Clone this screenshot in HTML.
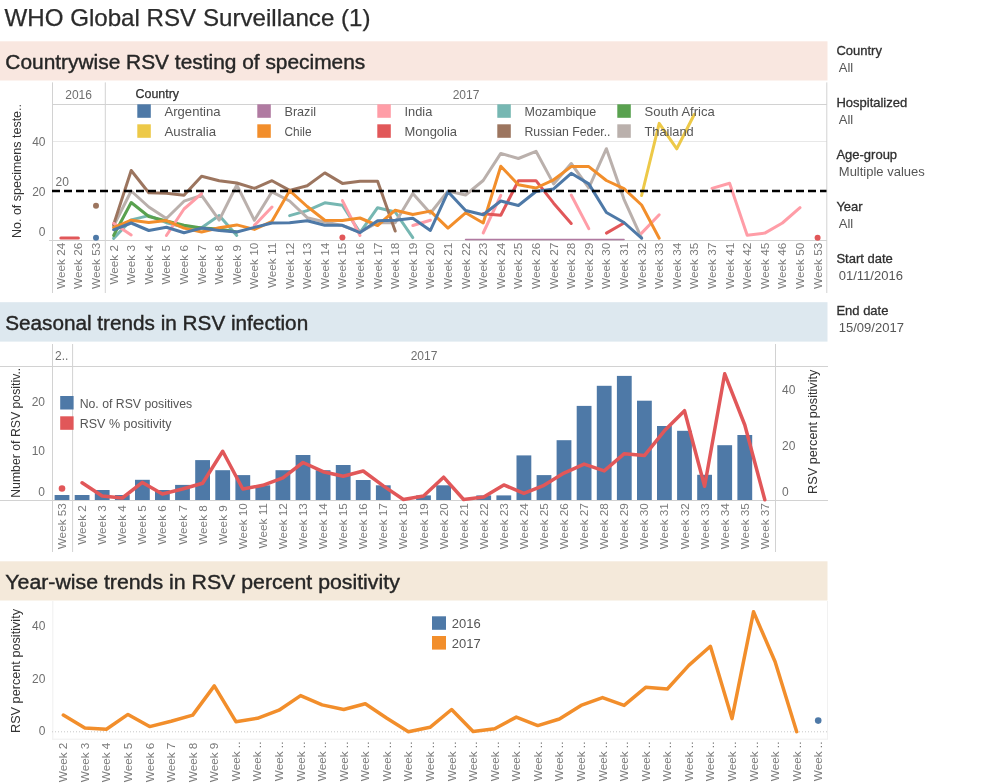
<!DOCTYPE html>
<html><head><meta charset="utf-8"><title>WHO Global RSV Surveillance (1)</title>
<style>
html,body{margin:0;padding:0;background:#fff;}
body{width:984px;height:784px;overflow:hidden;}
svg{display:block;font-family:'Liberation Sans', Arial, sans-serif;will-change:transform;}
</style></head><body>
<svg width="984" height="784" viewBox="0 0 984 784">
<text x="4.5" y="26.0" font-size="24" fill="#2b2b2b" textLength="366" lengthAdjust="spacingAndGlyphs" stroke="#2b2b2b" stroke-width="0.25">WHO Global RSV Surveillance (1)</text>
<rect x="0.0" y="41.3" width="827.5" height="39.2" fill="#f9e7e0"/>
<text x="5.3" y="68.9" font-size="20" fill="#262626" textLength="360" lengthAdjust="spacingAndGlyphs" stroke="#262626" stroke-width="0.4">Countrywise RSV testing of specimens</text>
<rect x="0.0" y="302.2" width="827.5" height="39.4" fill="#dde8ef"/>
<text x="5.2" y="330.2" font-size="20" fill="#262626" textLength="303" lengthAdjust="spacingAndGlyphs" stroke="#262626" stroke-width="0.4">Seasonal trends in RSV infection</text>
<rect x="0.0" y="561.3" width="827.5" height="39.2" fill="#f4e9da"/>
<text x="5.3" y="588.8" font-size="20" fill="#262626" textLength="394.5" lengthAdjust="spacingAndGlyphs" stroke="#262626" stroke-width="0.4">Year-wise trends in RSV percent positivity</text>
<line x1="52" y1="141.5" x2="827" y2="141.5" stroke="#e8e8e8" stroke-width="1"/>
<line x1="52" y1="104.5" x2="827" y2="104.5" stroke="#d2d2d2" stroke-width="1"/>
<line x1="49" y1="240.5" x2="827" y2="240.5" stroke="#d2d2d2" stroke-width="1"/>
<line x1="52.5" y1="82.4" x2="52.5" y2="293" stroke="#d2d2d2" stroke-width="1"/>
<line x1="105.3" y1="82.4" x2="105.3" y2="293" stroke="#d2d2d2" stroke-width="1"/>
<line x1="826.8" y1="82.4" x2="826.8" y2="293" stroke="#d2d2d2" stroke-width="1"/>
<text x="78.6" y="98.7" font-size="12" fill="#6f6f6f" text-anchor="middle">2016</text>
<text x="466.0" y="98.7" font-size="12" fill="#6f6f6f" text-anchor="middle">2017</text>
<text x="45.5" y="145.8" font-size="12" fill="#6f6f6f" text-anchor="end">40</text>
<text x="45.5" y="196.3" font-size="12" fill="#6f6f6f" text-anchor="end">20</text>
<text x="45.5" y="236.0" font-size="12" fill="#6f6f6f" text-anchor="end">0</text>
<text transform="translate(21.2,171.0) rotate(-90)" font-size="12.5" fill="#333333" text-anchor="middle" textLength="134" lengthAdjust="spacingAndGlyphs">No. of specimens teste..</text>
<text transform="translate(64.8,242.8) rotate(-90)" font-size="11" fill="#7a7a7a" text-anchor="end" textLength="46.2" lengthAdjust="spacingAndGlyphs">Week 24</text>
<text transform="translate(82.4,242.8) rotate(-90)" font-size="11" fill="#7a7a7a" text-anchor="end" textLength="46.2" lengthAdjust="spacingAndGlyphs">Week 26</text>
<text transform="translate(100.0,242.8) rotate(-90)" font-size="11" fill="#7a7a7a" text-anchor="end" textLength="46.2" lengthAdjust="spacingAndGlyphs">Week 53</text>
<text transform="translate(117.6,245.0) rotate(-90)" font-size="11" fill="#7a7a7a" text-anchor="end" textLength="39.6" lengthAdjust="spacingAndGlyphs">Week 2</text>
<text transform="translate(135.2,245.0) rotate(-90)" font-size="11" fill="#7a7a7a" text-anchor="end" textLength="39.6" lengthAdjust="spacingAndGlyphs">Week 3</text>
<text transform="translate(152.8,245.0) rotate(-90)" font-size="11" fill="#7a7a7a" text-anchor="end" textLength="39.6" lengthAdjust="spacingAndGlyphs">Week 4</text>
<text transform="translate(170.4,245.0) rotate(-90)" font-size="11" fill="#7a7a7a" text-anchor="end" textLength="39.6" lengthAdjust="spacingAndGlyphs">Week 5</text>
<text transform="translate(188.0,245.0) rotate(-90)" font-size="11" fill="#7a7a7a" text-anchor="end" textLength="39.6" lengthAdjust="spacingAndGlyphs">Week 6</text>
<text transform="translate(205.6,245.0) rotate(-90)" font-size="11" fill="#7a7a7a" text-anchor="end" textLength="39.6" lengthAdjust="spacingAndGlyphs">Week 7</text>
<text transform="translate(223.2,245.0) rotate(-90)" font-size="11" fill="#7a7a7a" text-anchor="end" textLength="39.6" lengthAdjust="spacingAndGlyphs">Week 8</text>
<text transform="translate(240.8,245.0) rotate(-90)" font-size="11" fill="#7a7a7a" text-anchor="end" textLength="39.6" lengthAdjust="spacingAndGlyphs">Week 9</text>
<text transform="translate(258.4,242.8) rotate(-90)" font-size="11" fill="#7a7a7a" text-anchor="end" textLength="46.2" lengthAdjust="spacingAndGlyphs">Week 10</text>
<text transform="translate(276.0,242.8) rotate(-90)" font-size="11" fill="#7a7a7a" text-anchor="end" textLength="45.3" lengthAdjust="spacingAndGlyphs">Week 11</text>
<text transform="translate(293.6,242.8) rotate(-90)" font-size="11" fill="#7a7a7a" text-anchor="end" textLength="46.2" lengthAdjust="spacingAndGlyphs">Week 12</text>
<text transform="translate(311.2,242.8) rotate(-90)" font-size="11" fill="#7a7a7a" text-anchor="end" textLength="46.2" lengthAdjust="spacingAndGlyphs">Week 13</text>
<text transform="translate(328.8,242.8) rotate(-90)" font-size="11" fill="#7a7a7a" text-anchor="end" textLength="46.2" lengthAdjust="spacingAndGlyphs">Week 14</text>
<text transform="translate(346.4,242.8) rotate(-90)" font-size="11" fill="#7a7a7a" text-anchor="end" textLength="46.2" lengthAdjust="spacingAndGlyphs">Week 15</text>
<text transform="translate(364.0,242.8) rotate(-90)" font-size="11" fill="#7a7a7a" text-anchor="end" textLength="46.2" lengthAdjust="spacingAndGlyphs">Week 16</text>
<text transform="translate(381.6,242.8) rotate(-90)" font-size="11" fill="#7a7a7a" text-anchor="end" textLength="46.2" lengthAdjust="spacingAndGlyphs">Week 17</text>
<text transform="translate(399.2,242.8) rotate(-90)" font-size="11" fill="#7a7a7a" text-anchor="end" textLength="46.2" lengthAdjust="spacingAndGlyphs">Week 18</text>
<text transform="translate(416.8,242.8) rotate(-90)" font-size="11" fill="#7a7a7a" text-anchor="end" textLength="46.2" lengthAdjust="spacingAndGlyphs">Week 19</text>
<text transform="translate(434.4,242.8) rotate(-90)" font-size="11" fill="#7a7a7a" text-anchor="end" textLength="46.2" lengthAdjust="spacingAndGlyphs">Week 20</text>
<text transform="translate(452.0,242.8) rotate(-90)" font-size="11" fill="#7a7a7a" text-anchor="end" textLength="46.2" lengthAdjust="spacingAndGlyphs">Week 21</text>
<text transform="translate(469.6,242.8) rotate(-90)" font-size="11" fill="#7a7a7a" text-anchor="end" textLength="46.2" lengthAdjust="spacingAndGlyphs">Week 22</text>
<text transform="translate(487.2,242.8) rotate(-90)" font-size="11" fill="#7a7a7a" text-anchor="end" textLength="46.2" lengthAdjust="spacingAndGlyphs">Week 23</text>
<text transform="translate(504.8,242.8) rotate(-90)" font-size="11" fill="#7a7a7a" text-anchor="end" textLength="46.2" lengthAdjust="spacingAndGlyphs">Week 24</text>
<text transform="translate(522.4,242.8) rotate(-90)" font-size="11" fill="#7a7a7a" text-anchor="end" textLength="46.2" lengthAdjust="spacingAndGlyphs">Week 25</text>
<text transform="translate(540.0,242.8) rotate(-90)" font-size="11" fill="#7a7a7a" text-anchor="end" textLength="46.2" lengthAdjust="spacingAndGlyphs">Week 26</text>
<text transform="translate(557.6,242.8) rotate(-90)" font-size="11" fill="#7a7a7a" text-anchor="end" textLength="46.2" lengthAdjust="spacingAndGlyphs">Week 27</text>
<text transform="translate(575.2,242.8) rotate(-90)" font-size="11" fill="#7a7a7a" text-anchor="end" textLength="46.2" lengthAdjust="spacingAndGlyphs">Week 28</text>
<text transform="translate(592.8,242.8) rotate(-90)" font-size="11" fill="#7a7a7a" text-anchor="end" textLength="46.2" lengthAdjust="spacingAndGlyphs">Week 29</text>
<text transform="translate(610.4,242.8) rotate(-90)" font-size="11" fill="#7a7a7a" text-anchor="end" textLength="46.2" lengthAdjust="spacingAndGlyphs">Week 30</text>
<text transform="translate(628.0,242.8) rotate(-90)" font-size="11" fill="#7a7a7a" text-anchor="end" textLength="46.2" lengthAdjust="spacingAndGlyphs">Week 31</text>
<text transform="translate(645.6,242.8) rotate(-90)" font-size="11" fill="#7a7a7a" text-anchor="end" textLength="46.2" lengthAdjust="spacingAndGlyphs">Week 32</text>
<text transform="translate(663.2,242.8) rotate(-90)" font-size="11" fill="#7a7a7a" text-anchor="end" textLength="46.2" lengthAdjust="spacingAndGlyphs">Week 33</text>
<text transform="translate(680.8,242.8) rotate(-90)" font-size="11" fill="#7a7a7a" text-anchor="end" textLength="46.2" lengthAdjust="spacingAndGlyphs">Week 34</text>
<text transform="translate(698.4,242.8) rotate(-90)" font-size="11" fill="#7a7a7a" text-anchor="end" textLength="46.2" lengthAdjust="spacingAndGlyphs">Week 35</text>
<text transform="translate(716.0,242.8) rotate(-90)" font-size="11" fill="#7a7a7a" text-anchor="end" textLength="46.2" lengthAdjust="spacingAndGlyphs">Week 37</text>
<text transform="translate(733.6,242.8) rotate(-90)" font-size="11" fill="#7a7a7a" text-anchor="end" textLength="46.2" lengthAdjust="spacingAndGlyphs">Week 41</text>
<text transform="translate(751.2,242.8) rotate(-90)" font-size="11" fill="#7a7a7a" text-anchor="end" textLength="46.2" lengthAdjust="spacingAndGlyphs">Week 42</text>
<text transform="translate(768.8,242.8) rotate(-90)" font-size="11" fill="#7a7a7a" text-anchor="end" textLength="46.2" lengthAdjust="spacingAndGlyphs">Week 45</text>
<text transform="translate(786.4,242.8) rotate(-90)" font-size="11" fill="#7a7a7a" text-anchor="end" textLength="46.2" lengthAdjust="spacingAndGlyphs">Week 46</text>
<text transform="translate(804.0,242.8) rotate(-90)" font-size="11" fill="#7a7a7a" text-anchor="end" textLength="46.2" lengthAdjust="spacingAndGlyphs">Week 50</text>
<text transform="translate(821.6,242.8) rotate(-90)" font-size="11" fill="#7a7a7a" text-anchor="end" textLength="46.2" lengthAdjust="spacingAndGlyphs">Week 53</text>
<polyline points="465.6,239.5 624.0,239.5" fill="none" stroke="#b07aa1" stroke-width="1.6" stroke-linejoin="round" stroke-linecap="round"/>
<polyline points="113.6,238.4 131.2,219.9 148.8,215.6 166.4,222.7 184.0,227.0 201.6,227.7 219.2,215.6 236.8,235.5" fill="none" stroke="#76b7b2" stroke-width="3" stroke-linejoin="round" stroke-linecap="round"/>
<polyline points="289.6,215.6 307.2,210.6 324.8,202.8 342.4,205.3 360.0,232.6 377.6,207.7 395.2,212.0 412.8,237.6" fill="none" stroke="#76b7b2" stroke-width="3" stroke-linejoin="round" stroke-linecap="round"/>
<polyline points="113.6,235.5 131.2,202.5 148.8,216.5 166.4,221.0 184.0,225.3 201.6,228.0 219.2,229.0 236.8,232.0" fill="none" stroke="#59a14f" stroke-width="3" stroke-linejoin="round" stroke-linecap="round"/>
<polyline points="113.6,226.0 131.2,191.0 148.8,207.0 166.4,218.5 184.0,201.2 201.6,195.3 219.2,220.1 236.8,185.0 254.4,220.3 272.0,191.8 289.6,201.0 307.2,217.7 324.8,222.0 342.4,225.5 360.0,232.0 377.6,222.7 395.2,222.7 412.8,193.4 430.4,213.2 448.0,191.0 465.6,195.0 483.2,180.5 500.8,153.4 518.4,158.5 536.0,151.3 553.6,183.9 571.2,163.5 588.8,187.9 606.4,148.7 624.0,199.3 641.6,238.2" fill="none" stroke="#bab0ac" stroke-width="3" stroke-linejoin="round" stroke-linecap="round"/>
<polyline points="113.6,224.6 131.2,170.5 148.8,192.8 166.4,193.3 184.0,195.3 201.6,176.2 219.2,180.7 236.8,183.0 254.4,188.4 272.0,180.7 289.6,190.4 307.2,185.7 324.8,172.9 342.4,183.4 360.0,181.2 377.6,181.2 395.2,231.0" fill="none" stroke="#9c755f" stroke-width="3" stroke-linejoin="round" stroke-linecap="round"/>
<polyline points="113.6,223.3 131.2,235.0" fill="none" stroke="#ff9da7" stroke-width="3" stroke-linejoin="round" stroke-linecap="round"/>
<polyline points="166.4,235.5 184.0,209.0 201.6,193.6" fill="none" stroke="#ff9da7" stroke-width="3" stroke-linejoin="round" stroke-linecap="round"/>
<polyline points="254.4,225.4 272.0,207.0" fill="none" stroke="#ff9da7" stroke-width="3" stroke-linejoin="round" stroke-linecap="round"/>
<polyline points="342.4,200.6 360.0,235.5" fill="none" stroke="#ff9da7" stroke-width="3" stroke-linejoin="round" stroke-linecap="round"/>
<polyline points="412.8,225.5 430.4,220.3" fill="none" stroke="#ff9da7" stroke-width="3" stroke-linejoin="round" stroke-linecap="round"/>
<polyline points="483.2,233.0 500.8,195.4" fill="none" stroke="#ff9da7" stroke-width="3" stroke-linejoin="round" stroke-linecap="round"/>
<polyline points="571.2,195.0 588.8,228.6" fill="none" stroke="#ff9da7" stroke-width="3" stroke-linejoin="round" stroke-linecap="round"/>
<polyline points="641.6,233.1 659.2,214.8" fill="none" stroke="#ff9da7" stroke-width="3" stroke-linejoin="round" stroke-linecap="round"/>
<polyline points="712.0,188.4 729.6,183.3 747.2,235.2 764.8,233.1 782.4,223.0 800.0,207.7" fill="none" stroke="#ff9da7" stroke-width="3" stroke-linejoin="round" stroke-linecap="round"/>
<polyline points="60.8,238.0 78.4,238.0" fill="none" stroke="#e15759" stroke-width="3" stroke-linejoin="round" stroke-linecap="round"/>
<polyline points="483.2,213.7 500.8,215.2 518.4,180.7 536.0,180.7 553.6,203.2 571.2,223.5" fill="none" stroke="#e15759" stroke-width="3" stroke-linejoin="round" stroke-linecap="round"/>
<polyline points="606.4,233.1 624.0,223.0" fill="none" stroke="#e15759" stroke-width="3" stroke-linejoin="round" stroke-linecap="round"/>
<polyline points="113.6,227.7 131.2,220.2 148.8,222.4 166.4,220.6 184.0,228.1 201.6,232.0 219.2,227.7 236.8,224.9 254.4,229.4 272.0,221.3 289.6,190.7 307.2,206.5 324.8,220.3 342.4,220.4 360.0,218.0 377.6,225.5 395.2,210.2 412.8,214.5 430.4,211.1 448.0,228.2 465.6,212.8 483.2,223.0 500.8,166.2 518.4,184.8 536.0,188.0 553.6,179.8 571.2,166.6 588.8,166.6 606.4,180.5 624.0,188.6 641.6,205.0 659.2,238.2" fill="none" stroke="#f28e2b" stroke-width="3" stroke-linejoin="round" stroke-linecap="round"/>
<polyline points="113.6,229.8 131.2,223.0 148.8,230.5 166.4,227.3 184.0,232.7 201.6,228.1 219.2,230.5 236.8,232.0 254.4,227.4 272.0,223.0 289.6,222.8 307.2,220.7 324.8,225.3 342.4,225.3 360.0,232.6 377.6,220.7 395.2,220.2 412.8,218.2 430.4,230.4 448.0,191.8 465.6,210.5 483.2,214.8 500.8,201.0 518.4,205.5 536.0,191.5 553.6,188.9 571.2,173.3 588.8,183.9 606.4,212.5 624.0,222.5 641.6,238.2" fill="none" stroke="#4e79a7" stroke-width="3" stroke-linejoin="round" stroke-linecap="round"/>
<polyline points="641.6,195.5 659.2,123.4 676.8,148.8 694.4,114.2" fill="none" stroke="#edc948" stroke-width="3" stroke-linejoin="round" stroke-linecap="round"/>
<circle cx="96.0" cy="205.7" r="3" fill="#9c755f"/>
<circle cx="96.0" cy="237.7" r="3" fill="#4e79a7"/>
<circle cx="342.4" cy="237.6" r="3" fill="#e15759"/>
<circle cx="817.6" cy="237.7" r="3" fill="#e15759"/>
<text x="135.5" y="98.0" font-size="13" fill="#2f2f2f" textLength="43.6" lengthAdjust="spacingAndGlyphs" stroke="#2f2f2f" stroke-width="0.25">Country</text>
<rect x="137.3" y="104.3" width="13.5" height="13.5" fill="#4e79a7"/>
<text x="164.5" y="116.0" font-size="13" fill="#555555" textLength="56" lengthAdjust="spacingAndGlyphs">Argentina</text>
<rect x="137.3" y="124.3" width="13.5" height="13.5" fill="#edc948"/>
<text x="164.5" y="135.6" font-size="13" fill="#555555" textLength="51.5" lengthAdjust="spacingAndGlyphs">Australia</text>
<rect x="257.3" y="104.3" width="13.5" height="13.5" fill="#b07aa1"/>
<text x="284.5" y="116.0" font-size="13" fill="#555555" textLength="31.5" lengthAdjust="spacingAndGlyphs">Brazil</text>
<rect x="257.3" y="124.3" width="13.5" height="13.5" fill="#f28e2b"/>
<text x="284.5" y="135.6" font-size="13" fill="#555555" textLength="27" lengthAdjust="spacingAndGlyphs">Chile</text>
<rect x="377.3" y="104.3" width="13.5" height="13.5" fill="#ff9da7"/>
<text x="404.5" y="116.0" font-size="13" fill="#555555" textLength="27.8" lengthAdjust="spacingAndGlyphs">India</text>
<rect x="377.3" y="124.3" width="13.5" height="13.5" fill="#e15759"/>
<text x="404.5" y="135.6" font-size="13" fill="#555555" textLength="52.5" lengthAdjust="spacingAndGlyphs">Mongolia</text>
<rect x="497.3" y="104.3" width="13.5" height="13.5" fill="#76b7b2"/>
<text x="524.5" y="116.0" font-size="13" fill="#555555" textLength="71.6" lengthAdjust="spacingAndGlyphs">Mozambique</text>
<rect x="497.3" y="124.3" width="13.5" height="13.5" fill="#9c755f"/>
<text x="524.5" y="135.6" font-size="13" fill="#555555" textLength="86" lengthAdjust="spacingAndGlyphs">Russian Feder..</text>
<rect x="617.3" y="104.3" width="13.5" height="13.5" fill="#59a14f"/>
<text x="644.5" y="116.0" font-size="13" fill="#555555" textLength="70.2" lengthAdjust="spacingAndGlyphs">South Africa</text>
<rect x="617.3" y="124.3" width="13.5" height="13.5" fill="#bab0ac"/>
<text x="644.5" y="135.6" font-size="13" fill="#555555" textLength="49.2" lengthAdjust="spacingAndGlyphs">Thailand</text>
<line x1="52" y1="191" x2="826.5" y2="191" stroke="#000" stroke-width="2.3" stroke-dasharray="8 4"/>
<text x="55.5" y="185.7" font-size="12" fill="#6f6f6f">20</text>
<line x1="0" y1="366.5" x2="828" y2="366.5" stroke="#d2d2d2" stroke-width="1"/>
<line x1="0" y1="500.5" x2="828" y2="500.5" stroke="#d2d2d2" stroke-width="1"/>
<line x1="52.5" y1="344" x2="52.5" y2="552" stroke="#d2d2d2" stroke-width="1"/>
<line x1="72.6" y1="344" x2="72.6" y2="552" stroke="#d2d2d2" stroke-width="1"/>
<line x1="775.5" y1="344" x2="775.5" y2="552" stroke="#d2d2d2" stroke-width="1"/>
<text x="55.0" y="359.7" font-size="12" fill="#6f6f6f">2..</text>
<text x="424.0" y="360.0" font-size="12" fill="#6f6f6f" text-anchor="middle">2017</text>
<text x="45.0" y="406.3" font-size="12" fill="#6f6f6f" text-anchor="end">20</text>
<text x="45.0" y="454.9" font-size="12" fill="#6f6f6f" text-anchor="end">10</text>
<text x="45.0" y="496.3" font-size="12" fill="#6f6f6f" text-anchor="end">0</text>
<text transform="translate(20.2,432.8) rotate(-90)" font-size="12.5" fill="#333333" text-anchor="middle" textLength="130" lengthAdjust="spacingAndGlyphs">Number of RSV positiv..</text>
<text x="782.0" y="394.0" font-size="12" fill="#6f6f6f">40</text>
<text x="782.0" y="449.5" font-size="12" fill="#6f6f6f">20</text>
<text x="782.0" y="496.0" font-size="12" fill="#6f6f6f">0</text>
<text transform="translate(817.0,431.8) rotate(-90)" font-size="12.5" fill="#333333" text-anchor="middle" textLength="124.4" lengthAdjust="spacingAndGlyphs">RSV percent positivity</text>
<text transform="translate(66.0,503.1) rotate(-90)" font-size="11" fill="#7a7a7a" text-anchor="end" textLength="46.2" lengthAdjust="spacingAndGlyphs">Week 53</text>
<text transform="translate(86.1,505.2) rotate(-90)" font-size="11" fill="#7a7a7a" text-anchor="end" textLength="39.6" lengthAdjust="spacingAndGlyphs">Week 2</text>
<text transform="translate(106.2,505.2) rotate(-90)" font-size="11" fill="#7a7a7a" text-anchor="end" textLength="39.6" lengthAdjust="spacingAndGlyphs">Week 3</text>
<text transform="translate(126.3,505.2) rotate(-90)" font-size="11" fill="#7a7a7a" text-anchor="end" textLength="39.6" lengthAdjust="spacingAndGlyphs">Week 4</text>
<text transform="translate(146.4,505.2) rotate(-90)" font-size="11" fill="#7a7a7a" text-anchor="end" textLength="39.6" lengthAdjust="spacingAndGlyphs">Week 5</text>
<text transform="translate(166.4,505.2) rotate(-90)" font-size="11" fill="#7a7a7a" text-anchor="end" textLength="39.6" lengthAdjust="spacingAndGlyphs">Week 6</text>
<text transform="translate(186.5,505.2) rotate(-90)" font-size="11" fill="#7a7a7a" text-anchor="end" textLength="39.6" lengthAdjust="spacingAndGlyphs">Week 7</text>
<text transform="translate(206.6,505.2) rotate(-90)" font-size="11" fill="#7a7a7a" text-anchor="end" textLength="39.6" lengthAdjust="spacingAndGlyphs">Week 8</text>
<text transform="translate(226.7,505.2) rotate(-90)" font-size="11" fill="#7a7a7a" text-anchor="end" textLength="39.6" lengthAdjust="spacingAndGlyphs">Week 9</text>
<text transform="translate(246.8,503.1) rotate(-90)" font-size="11" fill="#7a7a7a" text-anchor="end" textLength="46.2" lengthAdjust="spacingAndGlyphs">Week 10</text>
<text transform="translate(266.8,503.1) rotate(-90)" font-size="11" fill="#7a7a7a" text-anchor="end" textLength="45.3" lengthAdjust="spacingAndGlyphs">Week 11</text>
<text transform="translate(286.9,503.1) rotate(-90)" font-size="11" fill="#7a7a7a" text-anchor="end" textLength="46.2" lengthAdjust="spacingAndGlyphs">Week 12</text>
<text transform="translate(307.0,503.1) rotate(-90)" font-size="11" fill="#7a7a7a" text-anchor="end" textLength="46.2" lengthAdjust="spacingAndGlyphs">Week 13</text>
<text transform="translate(327.1,503.1) rotate(-90)" font-size="11" fill="#7a7a7a" text-anchor="end" textLength="46.2" lengthAdjust="spacingAndGlyphs">Week 14</text>
<text transform="translate(347.2,503.1) rotate(-90)" font-size="11" fill="#7a7a7a" text-anchor="end" textLength="46.2" lengthAdjust="spacingAndGlyphs">Week 15</text>
<text transform="translate(367.2,503.1) rotate(-90)" font-size="11" fill="#7a7a7a" text-anchor="end" textLength="46.2" lengthAdjust="spacingAndGlyphs">Week 16</text>
<text transform="translate(387.3,503.1) rotate(-90)" font-size="11" fill="#7a7a7a" text-anchor="end" textLength="46.2" lengthAdjust="spacingAndGlyphs">Week 17</text>
<text transform="translate(407.4,503.1) rotate(-90)" font-size="11" fill="#7a7a7a" text-anchor="end" textLength="46.2" lengthAdjust="spacingAndGlyphs">Week 18</text>
<text transform="translate(427.5,503.1) rotate(-90)" font-size="11" fill="#7a7a7a" text-anchor="end" textLength="46.2" lengthAdjust="spacingAndGlyphs">Week 19</text>
<text transform="translate(447.6,503.1) rotate(-90)" font-size="11" fill="#7a7a7a" text-anchor="end" textLength="46.2" lengthAdjust="spacingAndGlyphs">Week 20</text>
<text transform="translate(467.6,503.1) rotate(-90)" font-size="11" fill="#7a7a7a" text-anchor="end" textLength="46.2" lengthAdjust="spacingAndGlyphs">Week 21</text>
<text transform="translate(487.7,503.1) rotate(-90)" font-size="11" fill="#7a7a7a" text-anchor="end" textLength="46.2" lengthAdjust="spacingAndGlyphs">Week 22</text>
<text transform="translate(507.8,503.1) rotate(-90)" font-size="11" fill="#7a7a7a" text-anchor="end" textLength="46.2" lengthAdjust="spacingAndGlyphs">Week 23</text>
<text transform="translate(527.9,503.1) rotate(-90)" font-size="11" fill="#7a7a7a" text-anchor="end" textLength="46.2" lengthAdjust="spacingAndGlyphs">Week 24</text>
<text transform="translate(548.0,503.1) rotate(-90)" font-size="11" fill="#7a7a7a" text-anchor="end" textLength="46.2" lengthAdjust="spacingAndGlyphs">Week 25</text>
<text transform="translate(568.0,503.1) rotate(-90)" font-size="11" fill="#7a7a7a" text-anchor="end" textLength="46.2" lengthAdjust="spacingAndGlyphs">Week 26</text>
<text transform="translate(588.1,503.1) rotate(-90)" font-size="11" fill="#7a7a7a" text-anchor="end" textLength="46.2" lengthAdjust="spacingAndGlyphs">Week 27</text>
<text transform="translate(608.2,503.1) rotate(-90)" font-size="11" fill="#7a7a7a" text-anchor="end" textLength="46.2" lengthAdjust="spacingAndGlyphs">Week 28</text>
<text transform="translate(628.3,503.1) rotate(-90)" font-size="11" fill="#7a7a7a" text-anchor="end" textLength="46.2" lengthAdjust="spacingAndGlyphs">Week 29</text>
<text transform="translate(648.4,503.1) rotate(-90)" font-size="11" fill="#7a7a7a" text-anchor="end" textLength="46.2" lengthAdjust="spacingAndGlyphs">Week 30</text>
<text transform="translate(668.4,503.1) rotate(-90)" font-size="11" fill="#7a7a7a" text-anchor="end" textLength="46.2" lengthAdjust="spacingAndGlyphs">Week 31</text>
<text transform="translate(688.5,503.1) rotate(-90)" font-size="11" fill="#7a7a7a" text-anchor="end" textLength="46.2" lengthAdjust="spacingAndGlyphs">Week 32</text>
<text transform="translate(708.6,503.1) rotate(-90)" font-size="11" fill="#7a7a7a" text-anchor="end" textLength="46.2" lengthAdjust="spacingAndGlyphs">Week 33</text>
<text transform="translate(728.7,503.1) rotate(-90)" font-size="11" fill="#7a7a7a" text-anchor="end" textLength="46.2" lengthAdjust="spacingAndGlyphs">Week 34</text>
<text transform="translate(748.8,503.1) rotate(-90)" font-size="11" fill="#7a7a7a" text-anchor="end" textLength="46.2" lengthAdjust="spacingAndGlyphs">Week 35</text>
<text transform="translate(768.8,503.1) rotate(-90)" font-size="11" fill="#7a7a7a" text-anchor="end" textLength="46.2" lengthAdjust="spacingAndGlyphs">Week 37</text>
<rect x="54.6" y="495.0" width="14.8" height="5.0" fill="#4e79a7"/>
<rect x="74.7" y="495.0" width="14.8" height="5.0" fill="#4e79a7"/>
<rect x="94.8" y="490.0" width="14.8" height="10.0" fill="#4e79a7"/>
<rect x="114.9" y="495.0" width="14.8" height="5.0" fill="#4e79a7"/>
<rect x="135.0" y="479.8" width="14.8" height="20.2" fill="#4e79a7"/>
<rect x="155.0" y="490.0" width="14.8" height="10.0" fill="#4e79a7"/>
<rect x="175.1" y="484.9" width="14.8" height="15.1" fill="#4e79a7"/>
<rect x="195.2" y="460.1" width="14.8" height="39.9" fill="#4e79a7"/>
<rect x="215.3" y="470.2" width="14.8" height="29.8" fill="#4e79a7"/>
<rect x="235.4" y="475.1" width="14.8" height="24.9" fill="#4e79a7"/>
<rect x="255.4" y="485.3" width="14.8" height="14.7" fill="#4e79a7"/>
<rect x="275.5" y="470.2" width="14.8" height="29.8" fill="#4e79a7"/>
<rect x="295.6" y="455.0" width="14.8" height="45.0" fill="#4e79a7"/>
<rect x="315.7" y="470.2" width="14.8" height="29.8" fill="#4e79a7"/>
<rect x="335.8" y="465.0" width="14.8" height="35.0" fill="#4e79a7"/>
<rect x="355.8" y="480.0" width="14.8" height="20.0" fill="#4e79a7"/>
<rect x="375.9" y="485.3" width="14.8" height="14.7" fill="#4e79a7"/>
<rect x="416.1" y="495.4" width="14.8" height="4.6" fill="#4e79a7"/>
<rect x="436.2" y="485.3" width="14.8" height="14.7" fill="#4e79a7"/>
<rect x="476.3" y="495.4" width="14.8" height="4.6" fill="#4e79a7"/>
<rect x="496.4" y="495.4" width="14.8" height="4.6" fill="#4e79a7"/>
<rect x="516.5" y="455.4" width="14.8" height="44.6" fill="#4e79a7"/>
<rect x="536.6" y="475.1" width="14.8" height="24.9" fill="#4e79a7"/>
<rect x="556.6" y="440.2" width="14.8" height="59.8" fill="#4e79a7"/>
<rect x="576.7" y="405.9" width="14.8" height="94.1" fill="#4e79a7"/>
<rect x="596.8" y="385.8" width="14.8" height="114.2" fill="#4e79a7"/>
<rect x="616.9" y="375.9" width="14.8" height="124.1" fill="#4e79a7"/>
<rect x="637.0" y="400.7" width="14.8" height="99.3" fill="#4e79a7"/>
<rect x="657.0" y="426.0" width="14.8" height="74.0" fill="#4e79a7"/>
<rect x="677.1" y="430.8" width="14.8" height="69.2" fill="#4e79a7"/>
<rect x="697.2" y="474.8" width="14.8" height="25.2" fill="#4e79a7"/>
<rect x="717.3" y="445.2" width="14.8" height="54.8" fill="#4e79a7"/>
<rect x="737.4" y="435.0" width="14.8" height="65.0" fill="#4e79a7"/>
<polyline points="82.1,482.8 102.2,496.0 122.3,498.0 142.4,482.4 162.4,494.0 182.5,489.0 202.6,483.3 222.7,451.3 242.8,489.0 262.8,485.3 282.9,477.8 303.0,462.5 323.1,471.7 343.2,476.3 363.2,471.0 383.3,485.9 403.4,499.5 423.5,496.0 443.6,477.2 463.6,499.5 483.7,497.0 503.8,484.9 523.9,493.4 544.0,485.3 564.0,473.1 584.1,464.1 604.2,470.9 624.3,453.7 644.4,455.6 664.4,430.8 684.5,410.7 704.6,486.3 724.7,373.8 744.8,425.0 764.8,499.7" fill="none" stroke="#e15759" stroke-width="3.5" stroke-linejoin="round" stroke-linecap="round"/>
<circle cx="62.0" cy="488.5" r="3.3" fill="#e15759"/>
<rect x="60.2" y="396.0" width="13.4" height="13.5" fill="#4e79a7"/>
<rect x="60.2" y="416.3" width="13.4" height="13.5" fill="#e15759"/>
<text x="79.7" y="407.9" font-size="12.5" fill="#555555" textLength="112.5" lengthAdjust="spacingAndGlyphs">No. of RSV positives</text>
<text x="79.7" y="427.8" font-size="12.5" fill="#555555" textLength="91.8" lengthAdjust="spacingAndGlyphs">RSV % positivity</text>
<line x1="52.8" y1="601" x2="52.8" y2="739" stroke="#efefef" stroke-width="1"/>
<line x1="827.5" y1="601" x2="827.5" y2="739" stroke="#f1f1f1" stroke-width="1"/>
<line x1="52" y1="739.2" x2="828" y2="739.2" stroke="#efefef" stroke-width="1"/>
<line x1="52" y1="731.8" x2="828" y2="731.8" stroke="#c8c8c8" stroke-width="1" stroke-dasharray="1 2"/>
<text x="45.4" y="629.8" font-size="12" fill="#6f6f6f" text-anchor="end">40</text>
<text x="45.4" y="683.3" font-size="12" fill="#6f6f6f" text-anchor="end">20</text>
<text x="45.4" y="734.8" font-size="12" fill="#6f6f6f" text-anchor="end">0</text>
<text transform="translate(19.8,671.0) rotate(-90)" font-size="12.5" fill="#333333" text-anchor="middle" textLength="124" lengthAdjust="spacingAndGlyphs">RSV percent positivity</text>
<text transform="translate(67.3,742.6) rotate(-90)" font-size="11" fill="#7a7a7a" text-anchor="end" textLength="39.6" lengthAdjust="spacingAndGlyphs">Week 2</text>
<text transform="translate(88.9,742.6) rotate(-90)" font-size="11" fill="#7a7a7a" text-anchor="end" textLength="39.6" lengthAdjust="spacingAndGlyphs">Week 3</text>
<text transform="translate(110.4,742.6) rotate(-90)" font-size="11" fill="#7a7a7a" text-anchor="end" textLength="39.6" lengthAdjust="spacingAndGlyphs">Week 4</text>
<text transform="translate(132.0,742.6) rotate(-90)" font-size="11" fill="#7a7a7a" text-anchor="end" textLength="39.6" lengthAdjust="spacingAndGlyphs">Week 5</text>
<text transform="translate(153.6,742.6) rotate(-90)" font-size="11" fill="#7a7a7a" text-anchor="end" textLength="39.6" lengthAdjust="spacingAndGlyphs">Week 6</text>
<text transform="translate(175.1,742.6) rotate(-90)" font-size="11" fill="#7a7a7a" text-anchor="end" textLength="39.6" lengthAdjust="spacingAndGlyphs">Week 7</text>
<text transform="translate(196.7,742.6) rotate(-90)" font-size="11" fill="#7a7a7a" text-anchor="end" textLength="39.6" lengthAdjust="spacingAndGlyphs">Week 8</text>
<text transform="translate(218.3,742.6) rotate(-90)" font-size="11" fill="#7a7a7a" text-anchor="end" textLength="39.6" lengthAdjust="spacingAndGlyphs">Week 9</text>
<text transform="translate(239.9,741.6) rotate(-90)" font-size="11" fill="#7a7a7a" text-anchor="end" textLength="39.6" lengthAdjust="spacingAndGlyphs">Week ..</text>
<text transform="translate(261.4,741.6) rotate(-90)" font-size="11" fill="#7a7a7a" text-anchor="end" textLength="39.6" lengthAdjust="spacingAndGlyphs">Week ..</text>
<text transform="translate(283.0,741.6) rotate(-90)" font-size="11" fill="#7a7a7a" text-anchor="end" textLength="39.6" lengthAdjust="spacingAndGlyphs">Week ..</text>
<text transform="translate(304.6,741.6) rotate(-90)" font-size="11" fill="#7a7a7a" text-anchor="end" textLength="39.6" lengthAdjust="spacingAndGlyphs">Week ..</text>
<text transform="translate(326.1,741.6) rotate(-90)" font-size="11" fill="#7a7a7a" text-anchor="end" textLength="39.6" lengthAdjust="spacingAndGlyphs">Week ..</text>
<text transform="translate(347.7,741.6) rotate(-90)" font-size="11" fill="#7a7a7a" text-anchor="end" textLength="39.6" lengthAdjust="spacingAndGlyphs">Week ..</text>
<text transform="translate(369.3,741.6) rotate(-90)" font-size="11" fill="#7a7a7a" text-anchor="end" textLength="39.6" lengthAdjust="spacingAndGlyphs">Week ..</text>
<text transform="translate(390.9,741.6) rotate(-90)" font-size="11" fill="#7a7a7a" text-anchor="end" textLength="39.6" lengthAdjust="spacingAndGlyphs">Week ..</text>
<text transform="translate(412.4,741.6) rotate(-90)" font-size="11" fill="#7a7a7a" text-anchor="end" textLength="39.6" lengthAdjust="spacingAndGlyphs">Week ..</text>
<text transform="translate(434.0,741.6) rotate(-90)" font-size="11" fill="#7a7a7a" text-anchor="end" textLength="39.6" lengthAdjust="spacingAndGlyphs">Week ..</text>
<text transform="translate(455.6,741.6) rotate(-90)" font-size="11" fill="#7a7a7a" text-anchor="end" textLength="39.6" lengthAdjust="spacingAndGlyphs">Week ..</text>
<text transform="translate(477.1,741.6) rotate(-90)" font-size="11" fill="#7a7a7a" text-anchor="end" textLength="39.6" lengthAdjust="spacingAndGlyphs">Week ..</text>
<text transform="translate(498.7,741.6) rotate(-90)" font-size="11" fill="#7a7a7a" text-anchor="end" textLength="39.6" lengthAdjust="spacingAndGlyphs">Week ..</text>
<text transform="translate(520.3,741.6) rotate(-90)" font-size="11" fill="#7a7a7a" text-anchor="end" textLength="39.6" lengthAdjust="spacingAndGlyphs">Week ..</text>
<text transform="translate(541.8,741.6) rotate(-90)" font-size="11" fill="#7a7a7a" text-anchor="end" textLength="39.6" lengthAdjust="spacingAndGlyphs">Week ..</text>
<text transform="translate(563.4,741.6) rotate(-90)" font-size="11" fill="#7a7a7a" text-anchor="end" textLength="39.6" lengthAdjust="spacingAndGlyphs">Week ..</text>
<text transform="translate(585.0,741.6) rotate(-90)" font-size="11" fill="#7a7a7a" text-anchor="end" textLength="39.6" lengthAdjust="spacingAndGlyphs">Week ..</text>
<text transform="translate(606.5,741.6) rotate(-90)" font-size="11" fill="#7a7a7a" text-anchor="end" textLength="39.6" lengthAdjust="spacingAndGlyphs">Week ..</text>
<text transform="translate(628.1,741.6) rotate(-90)" font-size="11" fill="#7a7a7a" text-anchor="end" textLength="39.6" lengthAdjust="spacingAndGlyphs">Week ..</text>
<text transform="translate(649.7,741.6) rotate(-90)" font-size="11" fill="#7a7a7a" text-anchor="end" textLength="39.6" lengthAdjust="spacingAndGlyphs">Week ..</text>
<text transform="translate(671.3,741.6) rotate(-90)" font-size="11" fill="#7a7a7a" text-anchor="end" textLength="39.6" lengthAdjust="spacingAndGlyphs">Week ..</text>
<text transform="translate(692.8,741.6) rotate(-90)" font-size="11" fill="#7a7a7a" text-anchor="end" textLength="39.6" lengthAdjust="spacingAndGlyphs">Week ..</text>
<text transform="translate(714.4,741.6) rotate(-90)" font-size="11" fill="#7a7a7a" text-anchor="end" textLength="39.6" lengthAdjust="spacingAndGlyphs">Week ..</text>
<text transform="translate(736.0,741.6) rotate(-90)" font-size="11" fill="#7a7a7a" text-anchor="end" textLength="39.6" lengthAdjust="spacingAndGlyphs">Week ..</text>
<text transform="translate(757.5,741.6) rotate(-90)" font-size="11" fill="#7a7a7a" text-anchor="end" textLength="39.6" lengthAdjust="spacingAndGlyphs">Week ..</text>
<text transform="translate(779.1,741.6) rotate(-90)" font-size="11" fill="#7a7a7a" text-anchor="end" textLength="39.6" lengthAdjust="spacingAndGlyphs">Week ..</text>
<text transform="translate(800.7,741.6) rotate(-90)" font-size="11" fill="#7a7a7a" text-anchor="end" textLength="39.6" lengthAdjust="spacingAndGlyphs">Week ..</text>
<text transform="translate(822.2,741.6) rotate(-90)" font-size="11" fill="#7a7a7a" text-anchor="end" textLength="39.6" lengthAdjust="spacingAndGlyphs">Week ..</text>
<polyline points="63.3,715.1 84.9,728.0 106.4,729.3 128.0,714.4 149.6,726.6 171.1,721.2 192.7,715.1 214.3,685.9 235.9,721.7 257.4,718.3 279.0,710.2 300.6,695.6 322.1,704.9 343.7,709.5 365.3,703.7 386.9,718.3 408.4,731.7 430.0,727.3 451.6,709.5 473.1,731.5 494.7,728.7 516.3,717.1 537.8,725.6 559.4,719.0 581.0,705.4 602.5,697.6 624.1,705.4 645.7,687.3 667.3,689.0 688.8,665.4 710.4,646.3 732.0,718.6 753.5,611.8 775.1,661.7 796.7,731.7" fill="none" stroke="#f28e2b" stroke-width="3.5" stroke-linejoin="round" stroke-linecap="round"/>
<circle cx="818.2" cy="720.6" r="3.3" fill="#4e79a7"/>
<rect x="432.0" y="616.3" width="14.0" height="13.5" fill="#4e79a7"/>
<rect x="432.0" y="636.0" width="14.0" height="13.6" fill="#f28e2b"/>
<text x="451.7" y="628.0" font-size="13" fill="#555555">2016</text>
<text x="451.7" y="648.0" font-size="13" fill="#555555">2017</text>
<text x="836.4" y="55.0" font-size="13" fill="#2f2f2f" stroke="#2f2f2f" stroke-width="0.3">Country</text>
<text x="838.8" y="71.6" font-size="13" fill="#555555">All</text>
<text x="836.4" y="107.0" font-size="13" fill="#2f2f2f" stroke="#2f2f2f" stroke-width="0.3">Hospitalized</text>
<text x="838.8" y="123.6" font-size="13" fill="#555555">All</text>
<text x="836.4" y="159.0" font-size="13" fill="#2f2f2f" stroke="#2f2f2f" stroke-width="0.3">Age-group</text>
<text x="838.8" y="175.6" font-size="13" fill="#555555">Multiple values</text>
<text x="836.4" y="211.0" font-size="13" fill="#2f2f2f" stroke="#2f2f2f" stroke-width="0.3">Year</text>
<text x="838.8" y="227.6" font-size="13" fill="#555555">All</text>
<text x="836.4" y="263.0" font-size="13" fill="#2f2f2f" stroke="#2f2f2f" stroke-width="0.3">Start date</text>
<text x="838.8" y="279.6" font-size="13" fill="#555555">01/11/2016</text>
<text x="836.4" y="315.0" font-size="13" fill="#2f2f2f" stroke="#2f2f2f" stroke-width="0.3">End date</text>
<text x="838.8" y="331.6" font-size="13" fill="#555555">15/09/2017</text>
</svg>
</body></html>
